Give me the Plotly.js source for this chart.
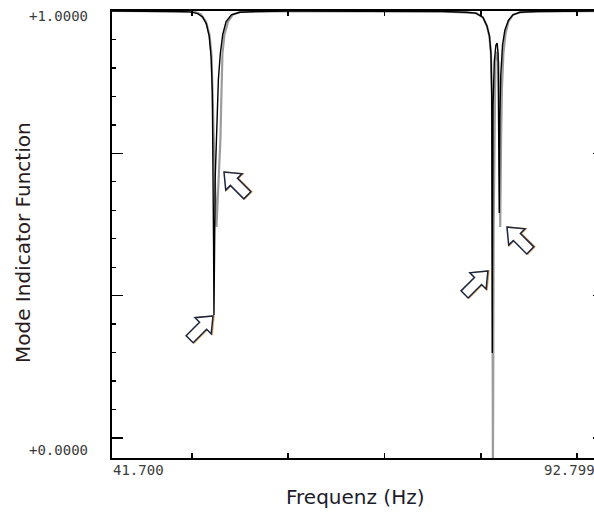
<!DOCTYPE html>
<html>
<head>
<meta charset="utf-8">
<script src="https://cdn.plot.ly/plotly-3.0.1.min.js"></script>
<style>
  html, body { margin: 0; padding: 0; overflow: hidden; background: #fff; }
  #chart { width: 610px; height: 515px; }
</style>
</head>
<body>
<div id="chart"></div>
<script>
// Mode indicator function, primary curve (black)
const freqBlack = [41.70, 45.00, 48.00, 49.80, 50.60, 51.10, 51.50, 51.80, 52.00, 52.12, 52.20,
  52.25, 52.29, 52.33, 52.42, 52.55, 52.62, 52.75, 52.95, 53.20, 53.55, 54.10, 55.00, 57.00,
  60.00, 70.00, 76.00, 78.50, 79.50, 80.23, 80.64, 80.90, 81.06, 81.14, 81.18, 81.20, 81.23,
  81.28, 81.40, 81.57, 81.70, 81.80, 81.85, 81.88, 81.92, 81.98, 82.08, 82.26, 82.50, 82.87,
  83.34, 84.07, 86.00, 92.80];
const mifBlack = [1.000, 1.000, 0.999, 0.998, 0.994, 0.986, 0.970, 0.940, 0.890, 0.810, 0.650,
  0.450, 0.288, 0.470, 0.611, 0.700, 0.770, 0.840, 0.900, 0.945, 0.975, 0.991, 0.997, 0.999,
  1.000, 1.000, 0.999, 0.997, 0.995, 0.985, 0.965, 0.942, 0.900, 0.800, 0.500, 0.199, 0.500,
  0.780, 0.880, 0.920, 0.925, 0.900, 0.800, 0.650, 0.527, 0.750, 0.850, 0.920, 0.955, 0.978,
  0.991, 0.997, 0.999, 1.000];

// Mode indicator function, secondary curve (gray)
const freqGray = [41.70, 45.00, 48.00, 50.32, 50.94, 51.46, 51.82, 52.03, 52.13, 52.24, 52.39,
  52.55, 52.75, 52.96, 53.06, 53.17, 53.38, 53.75, 54.27, 55.00, 58.00, 70.00, 76.00, 79.50,
  80.23, 80.64, 80.90, 81.06, 81.16, 81.21, 81.24, 81.26, 81.29, 81.34, 81.42, 81.52, 81.68,
  81.83, 81.94, 82.02, 82.11, 82.20, 82.35, 82.56, 82.87, 83.34, 84.07, 85.10, 92.80];
const mifGray = [1.000, 1.000, 0.999, 0.998, 0.992, 0.975, 0.945, 0.900, 0.800, 0.700, 0.600,
  0.494, 0.600, 0.700, 0.800, 0.900, 0.945, 0.975, 0.992, 0.998, 0.999, 1.000, 0.999, 0.995,
  0.985, 0.965, 0.940, 0.900, 0.800, 0.500, 0.100, -0.080, 0.100, 0.500, 0.780, 0.880, 0.905,
  0.880, 0.780, 0.494, 0.700, 0.820, 0.900, 0.945, 0.975, 0.991, 0.997, 0.999, 1.000];

// Axis ticks and end labels
const xTickVals = [50, 60, 70, 80, 90];
const yMajorVals = [0, 1 / 3, 2 / 3];
const xEndLabels = ['41.700', '92.799'];
const yEndLabels = ['+1.0000', '+0.0000'];

// Hollow pointer arrows marking the modes: tip (Hz, MIF) and heading in degrees
const arrowTipF = [52.19, 53.33, 80.74, 82.72];
const arrowTipM = [0.286, 0.623, 0.391, 0.494];
const arrowHeading = [45, 135, 45, 135];

const xRange = [41.7, 92.799];
const yRange = [-0.0468, 1.0];
const W = 610, H = 515;
const margin = { l: 112, r: 6, t: 11, b: 57 };
const plotW = W - margin.l - margin.r;
const plotH = H - margin.t - margin.b;

// Block arrow outline around a tip point; offsets are in screen pixels
function arrowPath(tipF, tipM, heading, shiftPx) {
  const pxPerX = plotW / (xRange[1] - xRange[0]);
  const pxPerY = plotH / (yRange[1] - yRange[0]);
  const L = 33, HL = 14, HW = 11.5, SW = 5;
  const outline = [[0, 0], [-HL, HW], [-HL, SW], [-L, SW], [-L, -SW], [-HL, -SW], [-HL, -HW]];
  const a = heading * Math.PI / 180, ca = Math.cos(a), sa = Math.sin(a);
  return outline.map((p, i) => {
    const dx = p[0] * ca - p[1] * sa + shiftPx;
    const dy = p[0] * sa + p[1] * ca;
    const f = tipF + dx / pxPerX;
    const m = tipM + dy / pxPerY;
    return (i ? 'L' : 'M') + f.toFixed(4) + ',' + m.toFixed(5);
  }).join(' ') + ' Z';
}

const arrowShapes = [];
arrowTipF.forEach((f, i) => {
  // warm fringe slightly to the right, then the outlined white arrow
  arrowShapes.push({
    type: 'path', xref: 'x', yref: 'y',
    path: arrowPath(f, arrowTipM[i], arrowHeading[i], 1),
    fillcolor: 'rgba(0,0,0,0)',
    line: { color: '#e0a050', width: 1.4 },
    layer: 'above'
  });
  arrowShapes.push({
    type: 'path', xref: 'x', yref: 'y',
    path: arrowPath(f, arrowTipM[i], arrowHeading[i], 0),
    fillcolor: '#ffffff',
    line: { color: '#1b2540', width: 1.5 },
    layer: 'above'
  });
});

const traces = [
  { x: freqGray, y: mifGray, type: 'scatter', mode: 'lines',
    line: { color: '#9c9c9c', width: 2.2 }, hoverinfo: 'skip' },
  { x: freqBlack, y: mifBlack, type: 'scatter', mode: 'lines',
    line: { color: '#000000', width: 1.4 }, hoverinfo: 'skip' }
];

const numFont = { family: 'DejaVu Sans Mono, monospace', size: 14, color: '#3a3a3a' };
const titleFont = { family: 'DejaVu Sans, sans-serif', size: 20 };

const annotations = [
  { text: yEndLabels[0], xref: 'paper', x: 0, xanchor: 'right', xshift: -22,
    yref: 'y', y: 1, yanchor: 'middle', yshift: -4.5, showarrow: false, font: numFont },
  { text: yEndLabels[1], xref: 'paper', x: 0, xanchor: 'right', xshift: -22,
    yref: 'paper', y: 0, yanchor: 'middle', yshift: 8, showarrow: false, font: numFont },
  { text: xEndLabels[0], xref: 'paper', x: 0, xanchor: 'left', xshift: -1,
    yref: 'paper', y: 0, yanchor: 'middle', yshift: -12, showarrow: false, font: numFont },
  { text: xEndLabels[1], xref: 'paper', x: 1, xanchor: 'left', xshift: -62,
    yref: 'paper', y: 0, yanchor: 'middle', yshift: -12, showarrow: false, font: numFont },
  { text: 'Mode Indicator Function', textangle: -90,
    xref: 'paper', x: 0, xanchor: 'center', xshift: -89,
    yref: 'paper', y: (458 - 243) / 447, yanchor: 'middle', showarrow: false,
    font: Object.assign({ color: '#2a1c1c' }, titleFont) },
  { text: 'Frequenz (Hz)',
    xref: 'paper', x: (355 - 112) / 492, xanchor: 'center',
    yref: 'paper', y: 0, yanchor: 'middle', yshift: -39, showarrow: false,
    font: Object.assign({ color: '#1c1c2a' }, titleFont) }
];

const layout = {
  width: W, height: H,
  margin: margin,
  paper_bgcolor: '#ffffff', plot_bgcolor: '#ffffff',
  showlegend: false,
  xaxis: {
    range: xRange, showgrid: false, zeroline: false,
    showline: true, linecolor: '#000', linewidth: 2, mirror: 'allticks',
    ticks: 'inside', tickmode: 'array', tickvals: xTickVals, ticklen: 5,
    tickwidth: 1.5, tickcolor: '#000', showticklabels: false
  },
  yaxis: {
    range: yRange, showgrid: false, zeroline: false,
    showline: true, linecolor: '#000', linewidth: 2, mirror: 'allticks',
    ticks: 'inside', tickmode: 'array', tickvals: yMajorVals, ticklen: 11,
    tickwidth: 1.5, tickcolor: '#000', showticklabels: false,
    minor: { ticks: 'inside', tickmode: 'linear', tick0: 0, dtick: 1 / 15,
      ticklen: 4, tickwidth: 1.3, tickcolor: '#000', showgrid: false }
  },
  shapes: arrowShapes,
  annotations: annotations
};

Plotly.newPlot('chart', traces, layout, { staticPlot: true, displayModeBar: false });
</script>
</body>
</html>
